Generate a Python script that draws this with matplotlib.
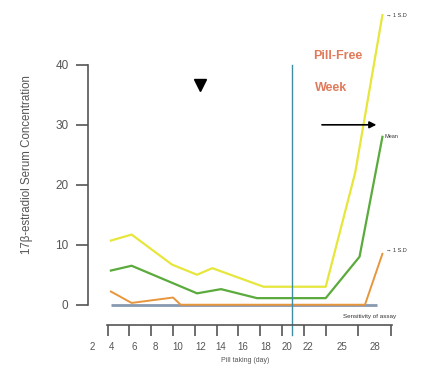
import matplotlib
matplotlib.use('Agg')
import matplotlib.pyplot as plt

plt.rcParams['font.family'] = ['Liberation Sans', 'DejaVu Sans']

# values
sd_plus_day = [4.3, 6.2, 9.9, 12.2, 13.6, 18.3, 24.0, 26.7, 29.2]
sd_plus_val = [10.7, 11.7, 6.7, 5.0, 6.1, 3.0, 3.0, 22.0, 48.3]

mean_day = [4.3, 6.2, 12.2, 14.4, 17.7, 24.0, 27.1, 29.2]
mean_val = [5.7, 6.5, 1.9, 2.6, 1.1, 1.1, 8.0, 28.0]

sd_minus_day = [4.3, 6.2, 10.0, 10.7, 27.6, 29.2]
sd_minus_val = [2.2, 0.3, 1.2, 0.0, 0.0, 8.5]

assay_day = [4.3, 28.7]
assay_val = [0, 0]

tick_days = [4, 6, 8, 10, 12, 14, 16, 18, 20, 22, 24, 27, 30]
label_pos = [2.6, 4.4, 6.4, 8.4, 10.4, 12.5, 14.4, 16.4, 18.5, 20.4, 22.4, 25.5, 28.5]
label_txt = ['2', '4', '6', '8', '10', '12', '14', '16', '18', '20', '22', '25', '28']
y_ticks = [0, 10, 20, 30, 40]

pill_free_day = 20.9

fig = plt.figure(figsize=(4.21, 3.75), dpi=100)
ax = fig.add_axes([0.209, 0.133, 0.746, 0.854])

ax.plot(assay_day, assay_val, color='#8899b0', lw=2.0, solid_capstyle='butt')
ax.plot(sd_minus_day, sd_minus_val, color='#e8963c', lw=1.4)
ax.plot(mean_day, mean_val, color='#5aaa3c', lw=1.6)
ax.plot(sd_plus_day, sd_plus_val, color='#e6e63c', lw=1.6)

ax.plot([pill_free_day, pill_free_day], [-5, 40], color='#3d8ea0', lw=1.0, clip_on=False)

ax.set_xlim(2.2, 31)
ax.set_ylim(-3.4, 50)

for s in ['top', 'right']:
    ax.spines[s].set_visible(False)
ax.spines['left'].set_bounds(0, 40)
ax.spines['bottom'].set_bounds(3.9, 30.1)
ax.spines['left'].set_color('#555555')
ax.spines['bottom'].set_color('#555555')
ax.spines['left'].set_linewidth(1.2)
ax.spines['bottom'].set_linewidth(1.2)

ax.set_yticks(y_ticks)
ax.tick_params(axis='y', length=9, width=1.2, color='#555555', labelsize=8.5,
               labelcolor='#555555', pad=5)
ax.set_xticks(tick_days)
ax.set_xticklabels([])
ax.set_xticks(label_pos, minor=True)
ax.set_xticklabels(label_txt, minor=True)
ax.tick_params(axis='x', which='major', length=8, width=1.2, color='#555555')
ax.tick_params(axis='x', which='minor', length=0, labelsize=7,
               labelcolor='#555555', pad=12)

ax.set_ylabel('17β-estradiol Serum Concentration', fontsize=8.3, color='#555555', labelpad=16)
ax.set_xlabel('Pill taking (day)', fontsize=5, color='#555555', labelpad=4)

ax.text(22.8, 41.0, 'Pill-Free', color='#e07a5a', fontsize=9, fontweight='bold')
ax.text(23.0, 35.6, 'Week', color='#e07a5a', fontsize=9, fontweight='bold')
ax.annotate('', xy=(28.9, 30), xytext=(23.4, 30),
            arrowprops=dict(arrowstyle='-|>', color='black', lw=1.2, mutation_scale=10))
ax.plot([12.5], [36.6], marker='v', color='black', markersize=9)

ax.text(29.5, 48.3, '\u2192 1 S.D', fontsize=4, color='#333333', va='center')
ax.text(29.4, 28.0, 'Mean', fontsize=4, color='#333333', va='center')
ax.text(29.5, 9.0, '\u2192 1 S.D', fontsize=4, color='#333333', va='center')
ax.text(30.5, -1.9, 'Sensitivity of assay', fontsize=4.5, color='#333333', va='center', ha='right')

fig.savefig('out.png', dpi=100)
